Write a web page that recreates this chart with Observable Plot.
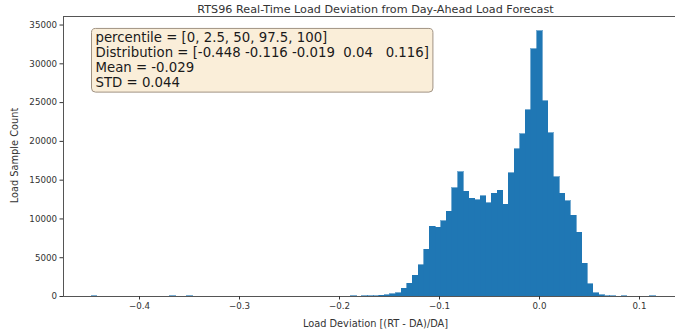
<!DOCTYPE html>
<html>
<head>
<meta charset="utf-8">
<script src="https://cdn.jsdelivr.net/npm/d3@7"></script>
<script src="https://cdn.jsdelivr.net/npm/@observablehq/plot@0.6"></script>
<style>
  html, body { margin: 0; padding: 0; background: #fff; }
  #chart svg text.pre { white-space: pre; }
</style>
</head>
<body>
<div id="chart"></div>
<script>
// Histogram of real-time vs day-ahead load deviation, 100 equal bins over [min, max]
const binLow = -0.448;
const binHigh = 0.116;
const binCount = 100;

// Samples per bin (bin 0 starts at binLow)
const counts = [
  1, 0, 0, 0, 0, 0, 0, 0, 0, 0,
  0, 0, 0, 0, 40, 0, 0, 40, 0, 0,
  0, 0, 0, 0, 0, 0, 0, 0, 0, 0,
  0, 0, 0, 0, 0, 0, 0, 0, 0, 0,
  0, 0, 0, 0, 0, 0, 40, 0, 20, 30,
  60, 80, 130, 260, 450, 1000, 1640, 2700, 4000, 6050,
  9000, 8850, 9700, 10950, 13950, 16000, 13500, 12600, 12400, 12900,
  12000, 13250, 13650, 11850, 15900, 19000, 20900, 24000, 31900, 34200,
  25200, 21050, 15400, 13250, 12250, 10420, 8200, 4200, 1550, 400,
  130, 50, 30, 0, 40, 0, 0, 0, 0, 1
];

// Summary statistics shown in the annotation box
const percentiles = [0, 2.5, 50, 97.5, 100];
const distribution = [-0.448, -0.116, -0.019, 0.04, 0.116];
const meanValue = -0.029;
const stdValue = 0.044;

// Axis ticks and extents
const xTicks = [-0.4, -0.3, -0.2, -0.1, 0.0, 0.1];
const yTicks = [0, 5000, 10000, 15000, 20000, 25000, 30000, 35000];
const xDomain = [-0.476, 0.136];
const yDomain = [0, 36100];

const titleText = "RTS96 Real-Time Load Deviation from Day-Ahead Load Forecast";
const xLabel = "Load Deviation [(RT - DA)/DA]";
const yLabel = "Load Sample Count";

const step = (binHigh - binLow) / binCount;
const bins = counts
  .map((c, i) => ({x1: binLow + i * step, x2: binLow + (i + 1) * step, count: c}))
  .filter(d => d.count > 0);

// numpy-style array print: fixed-width cells, trailing padding on short decimals
function npFormat(arr) {
  const decimals = Math.max(...arr.map(v => (String(v).split(".")[1] || "").length));
  const cells = arr.map(v => {
    const s = String(Math.abs(v));
    const d = (s.split(".")[1] || "").length;
    return (v < 0 ? "-" : " ") + s + " ".repeat(decimals - d);
  });
  return "[" + cells.join(" ").replace(/^ /, "").replace(/\s+$/, "") + "]";
}
const statLines = [
  `percentile = [${percentiles.join(", ")}]`,
  `Distribution = ${npFormat(distribution)}`,
  `Mean = ${meanValue}`,
  `STD = ${stdValue}`
];

const font = "DejaVu Sans, sans-serif";
const ink = "#333";

const chart = Plot.plot({
  width: 675,
  height: 333,
  marginTop: 16,
  marginBottom: 37,
  marginLeft: 63,
  marginRight: 0,
  style: {fontFamily: font, fontSize: "8.7px", color: ink, background: "#fff"},
  x: {domain: xDomain},
  y: {domain: yDomain},
  marks: [
    Plot.rectY(bins, {
      x1: "x1", x2: "x2", y: "count", inset: 0,
      fill: "#1f77b4", stroke: "#1f77b4", strokeWidth: 0.6,
      shapeRendering: "crispEdges"
    }),
    Plot.ruleX([xDomain[0]], {stroke: "#555", strokeWidth: 1}),
    Plot.ruleY([yDomain[0], yDomain[1]], {stroke: "#555", strokeWidth: 1}),
    Plot.axisX({
      ticks: xTicks, tickSize: 3.5, tickPadding: 3,
      tickFormat: d3.format(".1f"),
      label: null, fontSize: 8.7, stroke: ink
    }),
    Plot.axisY({
      ticks: yTicks, tickSize: 3.5, tickPadding: 3,
      tickFormat: d => String(d),
      label: null, fontSize: 8.7, stroke: ink
    }),
    Plot.text([xLabel], {
      frameAnchor: "bottom", dx: 6, dy: 27, fontSize: 9.8, fill: ink, lineAnchor: "middle"
    }),
    Plot.text([yLabel], {
      frameAnchor: "left", dx: -49, dy: -1, rotate: -90, textAnchor: "middle",
      fontSize: 9.8, fill: ink, lineAnchor: "middle"
    }),
    Plot.text([titleText], {
      frameAnchor: "top", dx: 6, dy: -7.5, fontSize: 11.2, fill: ink, lineAnchor: "middle"
    }),
    Plot.text([statLines.join("\n")], {
      frameAnchor: "top-left", dx: 32, dy: 43.5, textAnchor: "start",
      lineAnchor: "middle", lineHeight: 1.12, fontSize: 13.3, fill: "#1a1a1a"
    })
  ]
});

document.getElementById("chart").appendChild(chart);

// Rounded backdrop behind the statistics text, sized from the rendered text
const statsGroup = Array.from(chart.querySelectorAll("g[aria-label='text']"))
  .find(g => g.textContent.includes("percentile"));
if (statsGroup) {
  statsGroup.querySelectorAll("text").forEach(t => t.classList.add("pre"));
  const bb = statsGroup.getBBox();
  const padX = 4, padTop = 2, padBottom = 2;
  const rect = document.createElementNS("http://www.w3.org/2000/svg", "rect");
  rect.setAttribute("x", bb.x - padX);
  rect.setAttribute("y", bb.y - padTop);
  rect.setAttribute("width", bb.width + 2 * padX);
  rect.setAttribute("height", bb.height + padTop + padBottom);
  rect.setAttribute("rx", 4);
  rect.setAttribute("fill", "#faeed9");
  rect.setAttribute("stroke", "#a09282");
  rect.setAttribute("stroke-width", 1);
  statsGroup.insertBefore(rect, statsGroup.firstChild);
}
</script>
</body>
</html>
